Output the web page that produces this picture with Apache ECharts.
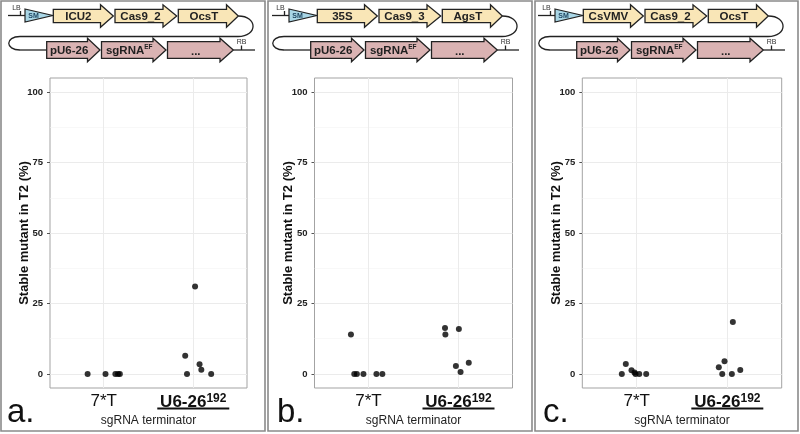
<!DOCTYPE html>
<html><head><meta charset="utf-8">
<script src="https://cdn.jsdelivr.net/npm/echarts@6/dist/echarts.min.js"></script>
<style>html,body{margin:0;padding:0;background:#fff}#c{width:800px;height:434px}</style>
</head><body><div id="c"></div>
<script>
// ---- data ----
const categories = ['7*T', 'U6-26'];
const categorySup = ['', '192'];
const yTicks = [0, 25, 50, 75, 100];
const yMinor = [12.5, 37.5, 62.5, 87.5];
const panelLetters = ['a.', 'b.', 'c.'];
const promoters = ['ICU2', '35S', 'CsVMV'];
const cas9Names = ['Cas9_2', 'Cas9_3', 'Cas9_2'];
const terminators = ['OcsT', 'AgsT', 'OcsT'];
const row2Names = ['pU6-26', 'sgRNA', '...'];

// jittered x positions (1 = 7*T, 2 = U6-26) and values (%)
const a7Tx = [0.82, 1.02, 1.13, 1.16, 1.18];
const a7Ty = [0, 0, 0, 0, 0];
const aU6x = [2.02, 1.91, 1.93, 2.07, 2.09, 2.20];
const aU6y = [31, 6.4, 0, 3.4, 1.5, 0];

const b7Tx = [0.805, 0.842, 0.871, 0.944, 1.088, 1.154];
const b7Ty = [14, 0, 0, 0, 0, 0];
const bU6x = [1.85, 1.854, 2.004, 1.971, 2.023, 2.114];
const bU6y = [16.3, 14.0, 15.9, 2.8, 0.7, 4.0];

const c7Tx = [0.836, 0.88, 0.943, 0.976, 0.987, 1.028, 1.105];
const c7Ty = [0, 3.5, 1.3, 0.5, 0, 0, 0];
const cU6x = [1.906, 1.944, 1.969, 2.061, 2.05, 2.143];
const cU6y = [2.4, 0, 4.5, 18.4, 0, 1.4];

const panelsX = [[a7Tx, aU6x], [b7Tx, bU6x], [c7Tx, cU6x]];
const panelsY = [[a7Ty, aU6y], [b7Ty, bU6y], [c7Ty, cU6y]];

// ---- layout ----
const FONT = 'Liberation Sans';
const gridBoxes = [{left: 50, width: 197}, {left: 314.5, width: 198}, {left: 582.3, width: 199.4}];
const diagOffsets = [0, 264, 530];
const borderX = [1, 268, 535];
const borderW = [264, 264, 263];
const letterX = [7, 277, 543];

const chart = echarts.init(document.getElementById('c'), null, {renderer: 'canvas'});

const grid = [], xAxis = [], yAxis = [], series = [];
gridBoxes.forEach((g, i) => {
  grid.push({left: g.left, width: g.width, top: 78, height: 310, show: true,
    borderColor: '#a3a3a3', borderWidth: 1, backgroundColor: 'transparent'});
  xAxis.push({
    gridIndex: i, type: 'value', min: 0.4, max: 2.6,
    axisLine: {show: false}, splitLine: {show: false},
    axisTick: {show: true, customValues: [1, 2], length: 3, lineStyle: {color: '#555'}},
    axisLabel: {
      customValues: [1, 2], margin: 4.5, fontFamily: FONT,
      formatter: v => v === 1 ? '{t|' + categories[0] + '}'
        : '{u|' + categories[1] + '}{s|' + categorySup[1] + '}\n{l| }',
      rich: {
        t: {fontSize: 17, lineHeight: 17, color: '#111', fontFamily: FONT},
        u: {fontSize: 17, fontWeight: 'bold', lineHeight: 15, padding: [4, 0, 0, 0], color: '#111', fontFamily: FONT},
        s: {fontSize: 12, fontWeight: 'bold', lineHeight: 11, verticalAlign: 'top', color: '#111', fontFamily: FONT},
        l: {fontSize: 1, width: 72, height: 2, lineHeight: 2, backgroundColor: '#111'}
      }
    },
    name: 'sgRNA terminator', nameLocation: 'middle', nameGap: 27, nameMoveOverlap: false,
    nameTextStyle: {fontSize: 12, color: '#222', fontFamily: FONT}
  });
  yAxis.push({
    gridIndex: i, type: 'value', min: -5, max: 105,
    axisLine: {show: false}, splitLine: {show: false},
    axisTick: {show: true, customValues: yTicks, length: 3, lineStyle: {color: '#555'}},
    axisLabel: {customValues: yTicks, fontSize: 9.5, fontWeight: 'bold', color: '#222', margin: 7, fontFamily: FONT},
    name: 'Stable mutant in T2 (%)', nameLocation: 'middle', nameGap: 19.5, nameMoveOverlap: false,
    nameTextStyle: {fontSize: 13, fontWeight: 'bold', color: '#111', fontFamily: FONT}
  });
  const gl = [];
  yMinor.forEach(v => gl.push({yAxis: v, lineStyle: {color: '#f4f4f4', width: 0.6, type: 'solid'}}));
  yTicks.forEach(v => gl.push({yAxis: v, lineStyle: {color: '#ebebeb', width: 1, type: 'solid'}}));
  [1, 2].forEach(v => gl.push({xAxis: v, lineStyle: {color: '#ebebeb', width: 1, type: 'solid'}}));
  series.push({
    type: 'scatter', xAxisIndex: i, yAxisIndex: i, data: [], z: 1, silent: true,
    markLine: {z: 1, silent: true, symbol: ['none', 'none'], label: {show: false}, animation: false, data: gl}
  });
  const pts = [];
  for (let k = 0; k < 2; k++) {
    panelsX[i][k].forEach((x, j) => pts.push([x, panelsY[i][k][j]]));
  }
  series.push({
    type: 'scatter', xAxisIndex: i, yAxisIndex: i, data: pts, z: 6,
    symbol: 'circle', symbolSize: 6, itemStyle: {color: '#000'}, clip: false
  });
});

// ---- construct diagrams (decoration) ----
const STROKE = '#222';
const YEL = '#f9e6b7', PINK = '#dab3b3', BLUE = '#a9d6e6';
function arrowPoly(x0, x1, xh, yc, bh, hh, fill) {
  return {type: 'polygon', shape: {points: [[x0, yc - bh], [xh, yc - bh], [xh, yc - hh], [x1, yc], [xh, yc + hh], [xh, yc + bh], [x0, yc + bh]]},
    style: {fill: fill, stroke: STROKE, lineWidth: 1.3}, z: 10};
}
function txt(x, y, text, size, weight, color, rich) {
  const st = {text: text, fontSize: size, fontWeight: weight, fontFamily: FONT, fill: color,
    align: 'center', verticalAlign: 'middle', textAlign: 'center', textVerticalAlign: 'middle'};
  if (rich) st.rich = rich;
  return {type: 'text', x: x, y: y, style: st, z: 12};
}
function line(x1, y1, x2, y2) {
  return {type: 'line', shape: {x1, y1, x2, y2}, style: {stroke: STROKE, lineWidth: 1.3}, z: 9};
}
function bez(x1, y1, cpx1, cpy1, cpx2, cpy2, x2, y2) {
  return {type: 'bezierCurve', shape: {x1, y1, cpx1, cpy1, cpx2, cpy2, x2, y2}, style: {stroke: STROKE, lineWidth: 1.3, fill: null}, z: 9};
}
const LBL = 11.5;
const graphics = [];
for (let i = 0; i < 3; i++) {
  const o = diagOffsets[i];
  graphics.push({type: 'rect', shape: {x: borderX[i], y: 1, width: borderW[i], height: 430},
    style: {fill: null, stroke: '#8a8a8a', lineWidth: 1.6}, z: 0});
  graphics.push({type: 'text', x: letterX[i], y: 413, style: {text: panelLetters[i], fontSize: 33, fontFamily: FONT, fill: '#111',
    align: 'left', verticalAlign: 'middle', textAlign: 'left', textVerticalAlign: 'middle'}, z: 12});
  // LB
  graphics.push(line(o + 8, 15.5, o + 26, 15.5));
  graphics.push(line(o + 20.5, 11, o + 20.5, 15.5));
  graphics.push(txt(o + 16.5, 8.5, 'LB', 7, 'normal', '#333'));
  // SM
  graphics.push({type: 'polygon', shape: {points: [[o + 25, 9], [o + 52.7, 15.5], [o + 25, 22]]},
    style: {fill: BLUE, stroke: STROKE, lineWidth: 1.2}, z: 10});
  graphics.push(txt(o + 33.5, 16, 'SM', 7, 'bold', '#1d4560'));
  // row 1
  const r1 = [[53.3, 113.3, 100.5], [115, 176.7, 163], [178.3, 238.3, 226.5]];
  const r1t = [promoters[i], cas9Names[i], terminators[i]];
  r1.forEach((a, k) => {
    graphics.push(arrowPoly(o + a[0], o + a[1], o + a[2], 16, 6.6, 11.2, YEL));
    graphics.push(txt(o + (a[0] + a[2]) / 2 + 1.5, 16.5, r1t[k], LBL, 'bold', '#222'));
  });
  // connector
  graphics.push(bez(o + 238.3, 16, o + 258, 16, o + 258, 36.5, o + 238, 36.5));
  graphics.push(line(o + 238, 36.5, o + 20, 36.5));
  graphics.push(bez(o + 20, 36.5, o + 5, 36.5, o + 5, 50, o + 20, 50));
  graphics.push(line(o + 20, 50, o + 47, 50));
  // row 2
  const r2 = [[46.7, 100, 87.5], [101.5, 166, 153], [167.5, 233.3, 220]];
  r2.forEach((a, k) => {
    graphics.push(arrowPoly(o + a[0], o + a[1], o + a[2], 50, 8.3, 11.7, PINK));
    if (k === 1) {
      graphics.push(txt(o + (a[0] + a[2]) / 2 + 2, 50.5, '{m|' + row2Names[k] + '}{e|EF}', LBL, 'bold', '#222',
        {m: {fontSize: LBL, fontWeight: 'bold', fontFamily: FONT, fill: '#222', color: '#222', lineHeight: 14},
         e: {fontSize: 6.5, fontWeight: 'bold', fontFamily: FONT, fill: '#222', color: '#222', lineHeight: 8, verticalAlign: 'top'}}));
    } else {
      graphics.push(txt(o + (a[0] + a[2]) / 2 + 2, k === 2 ? 52 : 50.5, row2Names[k], LBL, 'bold', '#222'));
    }
  });
  // RB
  graphics.push(line(o + 233.3, 50, o + 255, 50));
  graphics.push(line(o + 241.5, 45.5, o + 241.5, 50));
  graphics.push(txt(o + 241.5, 42, 'RB', 7, 'normal', '#333'));
}

chart.setOption({
  animation: false,
  backgroundColor: '#fff',
  textStyle: {fontFamily: FONT},
  grid, xAxis, yAxis, series,
  graphic: {elements: graphics}
});
</script>
</body></html>
